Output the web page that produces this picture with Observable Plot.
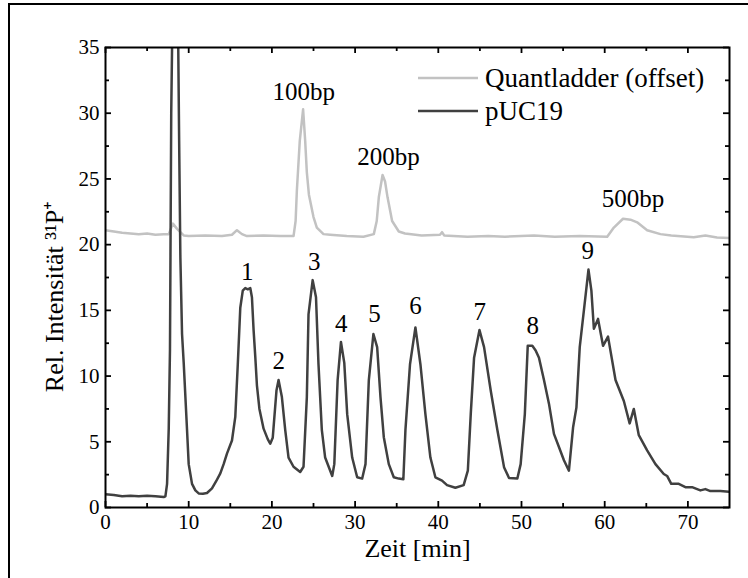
<!DOCTYPE html>
<html><head><meta charset="utf-8">
<script src="https://cdn.jsdelivr.net/npm/d3@7"></script>
<script src="https://cdn.jsdelivr.net/npm/@observablehq/plot@0.6"></script>
<style>
body{margin:0;background:#fff;}
#wrap{position:relative;width:748px;height:578px;overflow:hidden;background:#fff;}
#border{position:absolute;left:8px;top:3px;width:900px;height:900px;border-top:2px solid #000;border-left:2px solid #000;}
#chart{position:absolute;left:0;top:0;}
</style></head><body>
<div id="wrap"><div id="border"></div><div id="chart"></div></div>
<script>
// ---- data ----
const seriesNames = ["Quantladder (offset)", "pUC19"];
const seriesColors = ["#c2c2c2", "#404040"];

const pucTime = [0,1,2,3,4,5,6,7,7.2,7.4,7.6,7.75,7.9,8.1,8.4,8.7,8.85,9.0,9.2,9.4,9.8,10.0,10.4,10.8,11.2,11.7,12.2,12.8,13.3,13.8,14.2,14.6,15.2,15.6,15.9,16.2,16.5,16.8,17.1,17.4,17.6,17.8,18.0,18.2,18.5,19.0,19.5,19.8,20.1,20.55,20.8,21.2,21.6,22.0,22.6,23.4,23.8,24.2,24.4,24.9,25.3,25.6,26.0,26.4,27.25,27.5,27.9,28.3,28.7,29.05,29.65,30.25,30.85,31.25,31.65,32.2,32.65,33.05,33.45,34.05,34.65,35.25,35.8,36.05,36.6,37.25,37.85,38.45,39.05,39.65,40.45,41.05,42.05,43.05,43.55,43.9,44.3,44.95,45.5,46.3,47.1,47.9,48.5,49.5,49.9,50.4,50.75,51.3,51.7,52.1,52.7,53.3,53.9,54.5,55.1,55.7,56.2,56.6,57.0,57.5,58.05,58.4,58.7,59.2,59.8,60.4,61.3,62.3,63.0,63.5,64.1,65.1,66.1,67.1,67.5,68.0,68.9,69.7,70.5,71.5,72.1,72.7,73.9,75];
const pucValue = [1.0,0.95,0.85,0.9,0.85,0.9,0.85,0.8,0.85,1.8,6,12,30,40,42,38,28,19,13.2,11,5.9,3.3,1.8,1.3,1.07,1.05,1.1,1.45,2.0,2.6,3.3,4.1,5.1,6.9,10.9,15.2,16.5,16.7,16.6,16.7,16.0,13.5,11.5,9.3,7.5,6.0,5.2,4.85,5.3,8.9,9.7,8.4,5.9,3.8,3.1,2.7,3.1,8.4,14.7,17.3,16,10.9,5.9,3.8,2.4,3.3,9.7,12.6,11,7.1,3.8,2.3,2.2,3.3,9.7,13.2,12.2,8.4,5.35,3.3,2.3,2.2,2.15,5.9,10.9,13.7,10.9,7.1,3.8,2.3,2.05,1.7,1.5,1.7,2.8,7.1,11.4,13.5,12.2,8.9,5.9,3.07,2.25,2.2,3.3,7.1,12.3,12.3,11.95,11.4,9.7,7.9,5.6,4.6,3.6,2.8,6.1,7.6,12.2,15.0,18.1,16.5,13.6,14.35,12.3,13.0,9.7,8.1,6.4,7.5,5.5,4.35,3.3,2.55,2.4,1.8,1.8,1.55,1.55,1.3,1.4,1.25,1.25,1.2];

const ladTime = [0,1,2,3,4,5,6,7,7.6,8.1,8.6,9.4,10,12,14,15.2,15.8,16.4,17,19,21,22.6,22.85,23.0,23.35,23.75,24.0,24.2,24.45,25.0,25.4,26.2,27.0,29,31,32.25,32.6,32.85,33.3,33.6,33.9,34.45,35.25,36,38,40.2,40.45,40.7,43.5,46,48,51.5,54,57,60.3,61.1,62.2,63.1,63.9,65.1,66.7,68,70.7,72.1,73.5,75];
const ladValue = [21.1,21.0,20.9,20.85,20.8,20.85,20.75,20.8,20.8,21.6,21.2,20.7,20.65,20.7,20.65,20.75,21.1,20.8,20.65,20.7,20.65,20.65,21.8,24.1,27.9,30.3,27.9,25.5,23.8,22.1,21.3,20.8,20.75,20.65,20.6,20.8,21.8,23.6,25.3,24.8,23.6,21.8,21.0,20.85,20.7,20.75,20.95,20.7,20.6,20.65,20.6,20.7,20.6,20.65,20.6,21.3,21.97,21.9,21.7,21.1,20.8,20.7,20.57,20.7,20.55,20.5];

const peakLabels = ["1","2","3","4","5","6","7","8","9","100bp","200bp","500bp"];
const peakLabelTime = [17.03,20.83,25.1,28.33,32.33,37.26,44.99,51.36,57.97,23.83,34.0,63.4];
const peakLabelValue = [17.33,10.56,18.09,13.34,14.10,14.74,14.28,13.17,18.93,30.97,26.03,22.85];

const xMajorTicks = [0,10,20,30,40,50,60,70];
const xMinorTicks = [5,15,25,35,45,55,65];
const yMajorTicks = [0,5,10,15,20,25,30,35];
const yMinorTicks = [2.5,7.5,12.5,17.5,22.5,27.5,32.5];

const xLabel = "Zeit [min]";
const yLabel = "Rel. Intensität ³¹P⁺";

// ---- chart ----
const FONT = "'Liberation Serif','Times New Roman',serif";
const W = 748, H = 578, ML = 105, MR = 19, MT = 47, MB = 71;
const FW = W - ML - MR, FH = H - MT - MB;
const pucRows = pucTime.map((t, i) => ({t, v: pucValue[i]}));
const ladRows = ladTime.map((t, i) => ({t, v: ladValue[i]}));
const labelRows = peakLabels.map((s, i) => ({s, t: peakLabelTime[i], v: peakLabelValue[i]}));
const id = d => d;
const tk = {stroke: "#000", strokeWidth: 1.8};

const plot = Plot.plot({
  width: W, height: H,
  marginLeft: ML, marginRight: MR, marginTop: MT, marginBottom: MB,
  style: {fontFamily: FONT, fontSize: "21px", background: "transparent", color: "#000"},
  x: {domain: [0, 75]},
  y: {domain: [0, 35]},
  marks: [
    Plot.line(ladRows, {x: "t", y: "v", stroke: seriesColors[0], strokeWidth: 2.5, clip: true}),
    Plot.line(pucRows, {x: "t", y: "v", stroke: seriesColors[1], strokeWidth: 2.5, clip: true}),
    // inward ticks on all four sides
    Plot.tickX(xMajorTicks, {x: id, insetTop: FH - 6, ...tk}),
    Plot.tickX(xMajorTicks, {x: id, insetBottom: FH - 6, ...tk}),
    Plot.tickX(xMinorTicks, {x: id, insetTop: FH - 4, ...tk}),
    Plot.tickX(xMinorTicks, {x: id, insetBottom: FH - 4, ...tk}),
    Plot.tickY(yMajorTicks, {y: id, insetRight: FW - 6, ...tk}),
    Plot.tickY(yMajorTicks, {y: id, insetLeft: FW - 6, ...tk}),
    Plot.tickY(yMinorTicks, {y: id, insetRight: FW - 4, ...tk}),
    Plot.tickY(yMinorTicks, {y: id, insetLeft: FW - 4, ...tk}),
    Plot.frame({stroke: "#000", strokeWidth: 2}),
    // tick labels
    Plot.axisX({ticks: xMajorTicks, tickSize: 0, tickPadding: 7, label: null, fontSize: 21}),
    Plot.axisY({ticks: yMajorTicks, tickSize: 0, tickPadding: 6, label: null, fontSize: 21}),
    // axis titles
    Plot.text([xLabel], {text: id, frameAnchor: "bottom", dy: 49, lineAnchor: "bottom", textAnchor: "middle", fontSize: 26}),
    Plot.text([yLabel], {text: id, frameAnchor: "left", rotate: -90, dx: -43, dy: 19, lineAnchor: "bottom", textAnchor: "middle", fontSize: 26}),
    // peak annotations
    Plot.text(labelRows, {x: "t", y: "v", text: "s", lineAnchor: "bottom", textAnchor: "middle", fontSize: 25})
  ]
});

// legend (inside the plot, upper right)
const svg = d3.select(plot);
const lg = svg.append("g").attr("font-family", FONT).attr("font-size", 27).attr("text-anchor", "start");
seriesNames.forEach((name, i) => {
  const y = 78 + i * 33;
  lg.append("line").attr("x1", 418).attr("x2", 478).attr("y1", y).attr("y2", y)
    .attr("stroke", seriesColors[i]).attr("stroke-width", 2.5);
  lg.append("text").attr("x", 485).attr("y", y + 8.5).attr("fill", "#000").attr("text-anchor", "start").text(name);
});

document.getElementById("chart").appendChild(plot);
</script>
</body></html>
